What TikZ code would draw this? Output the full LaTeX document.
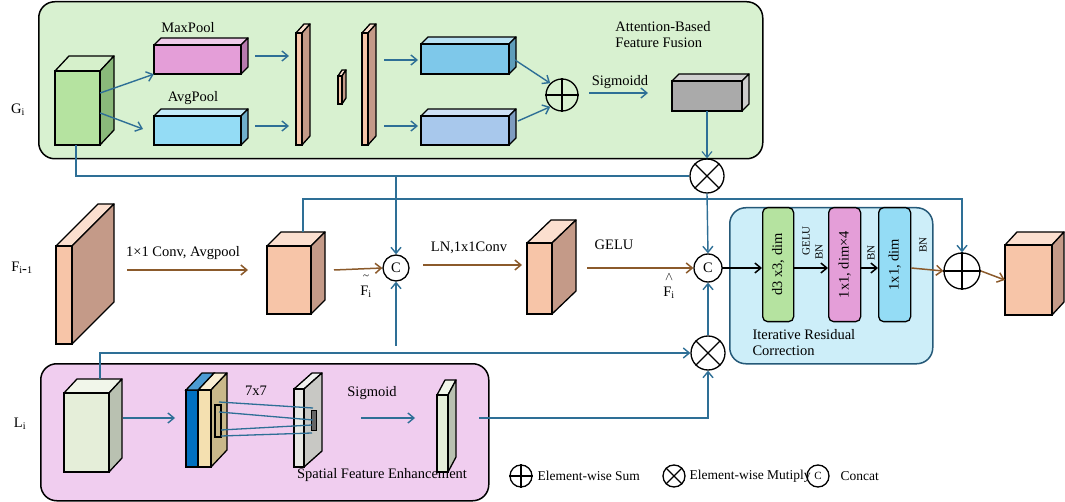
\documentclass[tikz,border=0pt]{standalone}
\usepackage{fontspec}
\setmainfont{Liberation Serif}
\usetikzlibrary{arrows.meta}
\definecolor{teal1}{HTML}{2E6F96}
\definecolor{brn}{HTML}{8B5A2B}
\definecolor{gbg}{HTML}{D8F1D0}
\definecolor{pbg}{HTML}{F0CDEF}
\definecolor{bbg}{HTML}{CDEEF9}
\definecolor{orf}{HTML}{F7C5A8}
\definecolor{ors}{HTML}{C49A88}
\definecolor{grf}{HTML}{B5E3A0}
\definecolor{grs}{HTML}{8AB97A}
\definecolor{pkf}{HTML}{E49ED8}
\definecolor{pks}{HTML}{B87AAE}
\definecolor{lbf}{HTML}{94DCF5}
\definecolor{lbs}{HTML}{6FAFCB}
\definecolor{b1f}{HTML}{7EC8EA}
\definecolor{b1s}{HTML}{5E9DBA}
\definecolor{b2f}{HTML}{A8C8EC}
\definecolor{b2s}{HTML}{7E9CC0}
\definecolor{gyf}{HTML}{AAAAAA}
\definecolor{gys}{HTML}{CCCCCC}
\definecolor{lgf}{HTML}{E5EED9}
\definecolor{lgs}{HTML}{B9C1B1}
\definecolor{ylf}{HTML}{F4E0B0}
\definecolor{yls}{HTML}{C9B88A}
\definecolor{dbl}{HTML}{0070C0}
\definecolor{wgf}{HTML}{E8E8E4}
\definecolor{wgs}{HTML}{C8C8C4}
\newcommand\cubo[9]{%
 \filldraw[fill=#8!55!white,line width=1.3pt,line join=round] (#2,#3) -- ++(#6,-#7) -- ++(#4,0) -- ++(-#6,#7) -- cycle;
 \filldraw[fill=#9,line width=1.3pt,line join=round] (#2+#4,#3) -- ++(#6,-#7) -- ++(0,#5) -- ++(-#6,#7) -- cycle;
 \filldraw[fill=#8,line width=1.3pt] (#2,#3) rectangle ++(#4,#5);
 \node[inner sep=0,minimum width=#4pt,minimum height=#5pt] (#1) at (#2+#4/2,#3+#5/2) {};}
\begin{document}
\begin{tikzpicture}[x=1pt,y=-1pt,font=\fontsize{14.5}{16}\selectfont,
 ta/.style={teal1,line width=1.4pt,-{Straight Barb[length=6pt,width=10pt]}},
 tl/.style={teal1,line width=1.4pt},
 ba/.style={brn,line width=1.5pt,-{Straight Barb[length=6pt,width=10pt]}},
 ka/.style={black,line width=1.5pt,-{Straight Barb[length=6pt,width=10pt]}},
 op/.style={circle,draw,line width=1.3pt,minimum size=#1,inner sep=0,fill=none},
 panel/.style={draw,line width=1.5pt,rounded corners=16pt},
 sm/.style={font=\fontsize{11}{12}\selectfont},
 lg/.style={anchor=west,font=\fontsize{13.5}{15}\selectfont}]
\useasboundingbox (0,0) rectangle (1065,502);
% ===== top panel
\node[panel,fill=gbg,minimum width=724pt,minimum height=157pt,anchor=north west] (gp) at (38,1) {};
\node at (18,110) {G$_{\mathrm i}$};
\cubo{g0}{55}{71}{45}{74}{14}{15}{grf}{grs}
\cubo{mx}{154}{45}{87}{29}{7}{7}{pkf}{pks}
\node at (188,28) {MaxPool};
\cubo{av}{154}{116}{87}{29}{7}{7}{lbf}{lbs}
\node at (193,98) {AvgPool};
\draw[ta] (g0.east|-0,93) -- (mx.south west);
\draw[ta] (g0.east|-0,113) -- (143,129);
\cubo{b1}{296}{33}{6}{112}{8}{9}{orf}{ors}
\cubo{b0}{338}{76}{4}{28}{4}{6}{orf}{ors}
\cubo{b2}{362}{33}{6}{112}{8}{9}{orf}{ors}
\draw[ta] (255,56) -- (289,56);
\draw[ta] (255,126) -- (289,126);
\draw[ta] (384,60) -- (418,60);
\draw[ta] (384,126) -- (418,126);
\cubo{c1}{421}{44}{88}{30}{7}{7}{b1f}{b1s}
\cubo{c2}{421}{116}{88}{29}{7}{7}{b2f}{b2s}
\node[op=32pt] (sum1) at (562,95) {};
\draw[line width=1.3pt] (sum1.north)--(sum1.south) (sum1.west)--(sum1.east);
\draw[ta] (515,60) -- (sum1.north west);
\draw[ta] (518,121) -- (sum1.south west);
\draw[ta] (589,93) -- (648,93);
\node at (620,82) {Sigmoidd};
\cubo{gr}{672}{81}{70}{30}{7}{7}{gyf}{gys}
\node[align=left] at (663,35) {Attention-Based\\Feature Fusion};
\node[op=34pt] (mul1) at (707,176) {};
\draw[line width=1.3pt] (mul1.north west)--(mul1.south east) (mul1.north east)--(mul1.south west);
\draw[ta,line width=1.1pt] (gr.south) -- (mul1.north);
\draw[tl] (76,145) |- (mul1.west);
% ===== middle row
\node at (22,268) {F$_{\mathrm{i}\mbox{-}\mathrm{1}}$};
\cubo{f0}{56}{246}{16}{98}{42}{42}{orf}{ors}
\node at (183,253) {1×1 Conv, Avgpool};
\cubo{f1}{267}{246}{44}{68}{14}{14}{orf}{ors}
\node[op=26pt] (C1) at (396,268) {C};
\draw[ba] (127,270) -- (248,270);
\draw[ba] (334,270) -- (C1.west);
\node[align=center,inner sep=0] at (366,286) {\fontsize{11}{9}\selectfont \~{}\\F$_{\mathrm i}$};
\cubo{f2}{527}{243}{25}{71}{24}{23}{orf}{ors}
\draw[ba] (423,265) -- (522,265);
\node at (469,248) {LN,1x1Conv};
\node at (614,245) {GELU};
\node[op=28pt] (C2) at (708,268) {C};
\draw[ba] (587,268) -- (C2.west);
\node[align=center,inner sep=0] at (669,286) {\fontsize{12}{9}\selectfont $\wedge$\\F$_{\mathrm i}$};
\draw[ta] (396,176) -- (C1.north);
\draw[ta] (mul1.south) -- (C2.north);
\coordinate (c1b) at (396,346);
\draw[ta] (c1b) -- (C1.south);
% ===== right block
\node[panel,draw=teal1!80!black,fill=bbg,minimum width=203pt,minimum height=156pt,anchor=north west] (ir) at (729,207) {};
\node[draw,line width=1.3pt,rounded corners=5pt,fill=grf,minimum width=31pt,minimum height=114pt,anchor=north west] (k1) at (762,207) {};
\node[rotate=90] at (k1) {d3 x3, dim};
\node[draw,line width=1.3pt,rounded corners=5pt,fill=pkf,minimum width=32pt,minimum height=114pt,anchor=north west] (k2) at (828,207) {};
\node[rotate=90] at (k2) {1x1, dim×4};
\node[draw,line width=1.3pt,rounded corners=5pt,fill=lbf,minimum width=32pt,minimum height=114pt,anchor=north west] (k3) at (878,207) {};
\node[rotate=90] at (k3) {1x1, dim};
\node[sm,rotate=90] at (806,241) {GELU};
\node[sm,rotate=90] at (819,252) {BN};
\node[sm,rotate=90] at (871,253) {BN};
\node[sm,rotate=90] at (923,245) {BN};
\node[align=left,anchor=north west] at (749,326) {Iterative Residual\\Correction};
\draw[ka] (722,268) -- (k1.west|-0,268);
\draw[ka] (k1.east|-0,268) -- (k2.west|-0,268);
\draw[ka] (k2.east|-0,268) -- (k3.west|-0,268);
\node[op=36pt] (sum2) at (962,271) {};
\draw[line width=1.3pt] (sum2.north)--(sum2.south) (sum2.west)--(sum2.east);
\draw[ba] (k3.east|-0,268) -- (sum2.west);
\cubo{f3}{1005}{245}{47}{70}{12}{13}{orf}{ors}
\draw[ba] (981,271) -- (f3.west);
\draw[ta] (303,232) -- (303,199) -| (sum2.north);
% ===== bottom panel
\node[panel,fill=pbg,minimum width=448pt,minimum height=137pt,anchor=north west] (lp) at (40,363) {};
\node at (20,424) {L$_{\mathrm i}$};
\cubo{l0}{64}{393}{45}{79}{13}{14}{lgf}{lgs}
\draw[ta] (123,418) -- (175,418);
\cubo{sb}{198}{390}{13}{77}{16}{17}{ylf}{yls}
\filldraw[fill=dbl,line width=1.3pt] (186,390) rectangle (198,467);
\filldraw[fill=dbl!70!white,line width=1.3pt] (186,390) -- ++(16,-17) -- ++(12,0) -- ++(-16,17) -- cycle;
\draw[line width=1.1pt] (215,405) rectangle (221,437);
\cubo{sp}{294}{389}{10}{78}{18}{16}{wgf}{wgs}
\filldraw[fill=black!60,line width=0.9pt] (311,410) rectangle (316,430);
\draw[teal1,line width=1.3pt] (219,402) -- (313,408) (219,412) -- (313,420) (221,430) -- (312,425) (221,436) -- (312,433);
\node at (256,391) {7x7};
\node at (372,393) {Sigmoid};
\draw[ta] (361,418) -- (415,418);
\cubo{so}{437}{395}{11}{77}{8}{15}{lgf}{lgs}
\node at (382,475) {Spatial Feature Enhancement};
\node[op=34pt] (mul2) at (708,353) {};
\draw[line width=1.3pt] (mul2.north west)--(mul2.south east) (mul2.north east)--(mul2.south west);
\draw[ta] (100,379) |- (mul2.west);
\draw[ta] (479,418) -| (mul2.south);
\draw[ta] (mul2.north) -- (C2.south);
% ===== legend
\node[op=22pt] (lg1) at (521,476) {};
\draw[line width=1.2pt] (lg1.north)--(lg1.south) (lg1.west)--(lg1.east);
\node[lg] at (534,476) {Element-wise Sum};
\node[op=22pt] (lg2) at (674,476) {};
\draw[line width=1.2pt] (lg2.north west)--(lg2.south east) (lg2.north east)--(lg2.south west);
\node[lg] at (686,476) {Element-wise Mutiply};
\node[op=22pt,font=\fontsize{11}{11}\selectfont] (lg3) at (818,476) {C};
\node[lg] at (837,476) {Concat};
\end{tikzpicture}
\end{document}
